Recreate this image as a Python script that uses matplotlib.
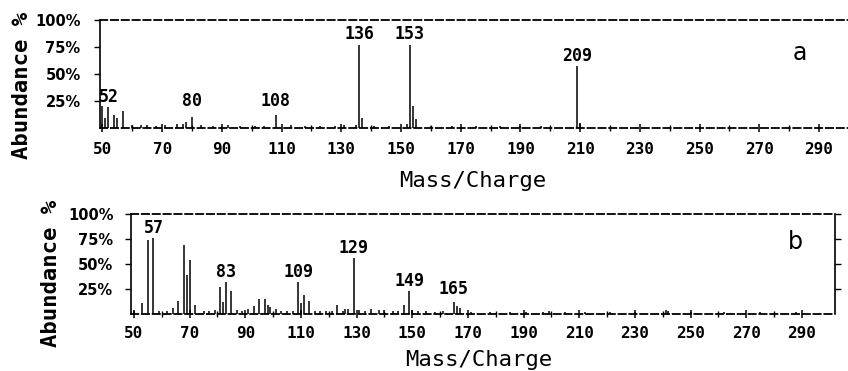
import matplotlib
matplotlib.use("Agg")
import matplotlib.pyplot as plt

# spectrum a: m/z and relative abundance (%)
mz_a = [50, 51, 52, 54, 55, 57, 60, 63, 65, 68, 71, 75, 77, 78, 80, 83, 87, 92, 96, 101,
        104, 108, 113, 118, 123, 128, 131, 135, 136, 137, 141, 146, 152, 153, 154, 155,
        160, 167, 175, 183, 190, 197, 209, 210]
ab_a = [20, 9, 19, 12, 9, 16, 3, 3, 3, 2, 3, 4, 4, 6, 10, 3, 2, 3, 2, 2,
        2, 12, 3, 2, 2, 2, 3, 3, 77, 9, 2, 2, 4, 77, 20, 8,
        2, 2, 2, 2, 2, 2, 57, 5]
tags_a = [52, 80, 108, 136, 153, 209]

# spectrum b
mz_b = [50, 53, 55, 57, 59, 62, 64, 66, 68, 69, 70, 72, 75, 77, 79, 81, 82, 83, 85, 87,
        89, 91, 93, 95, 97, 98, 99, 101, 103, 105, 107, 109, 110, 111, 113, 115, 117,
        119, 121, 123, 125, 126, 127, 129, 131, 133, 135, 138, 140, 143, 145, 147, 149,
        150, 152, 155, 158, 161, 165, 166, 167, 171, 178, 185, 191, 197, 199, 205,
        212, 221, 230, 241, 242, 250, 262, 275, 288]
ab_b = [3, 11, 74, 76, 3, 3, 6, 13, 69, 39, 54, 9, 3, 3, 4, 27, 12, 32, 23, 4,
        3, 5, 8, 15, 15, 9, 7, 5, 3, 3, 3, 32, 11, 19, 13, 3, 3,
        3, 3, 9, 3, 5, 5, 56, 4, 3, 5, 4, 4, 3, 3, 9, 23,
        4, 3, 3, 2, 3, 12, 8, 6, 2, 2, 2, 2, 2, 3, 2,
        2, 2, 2, 4, 3, 2, 2, 2, 2]
tags_b = [57, 83, 109, 129, 149, 165]

x_ticks = list(range(50, 300, 20))
y_ticks = [25, 50, 75, 100]
y_ticklabels = ["25%", "50%", "75%", "100%"]

mono = "DejaVu Sans Mono"


def draw_spectrum(ax, mz, ab, tags, xlim, ylab_pad, xlab_pad, right_axis):
    ax.vlines(mz, 0, ab, color="black", linewidth=1.1)
    heights = dict(zip(mz, ab))
    for m in tags:
        ax.text(m, max(heights[m], 15) + 10, str(m), ha="center", va="center",
                fontsize=12, fontweight="bold", family=mono)

    ax.set_xlim(*xlim)
    ax.set_ylim(0, 100)
    ax.set_xticks(x_ticks)
    ax.set_xticks(range(60, 300, 20), minor=True)
    ax.set_xticklabels([str(t) for t in x_ticks], fontsize=11.5,
                       fontweight="bold", family=mono)
    ax.set_yticks(y_ticks)
    ax.set_yticklabels(y_ticklabels, fontsize=10.5, fontweight="bold",
                       family="DejaVu Sans")
    ax.tick_params(axis="x", which="major", direction="inout", length=6,
                   width=1.1, pad=xlab_pad)
    ax.tick_params(axis="x", which="minor", direction="inout", length=4, width=1.0)
    ax.tick_params(axis="y", direction="out", length=4, width=1.0, pad=ylab_pad,
                   right=right_axis)

    for side in ["top", "bottom"]:
        ax.spines[side].set_linestyle((0, (4, 2)))
        ax.spines[side].set_linewidth(1.3)
    ax.spines["left"].set_linewidth(1.2)
    if right_axis:
        ax.spines["right"].set_linewidth(1.2)
    else:
        ax.spines["right"].set_visible(False)
    ax.set_facecolor("white")


fig = plt.figure(figsize=(8.48, 3.71), dpi=100)

ax_a = fig.add_axes([0.118, 0.655, 0.882, 0.291])
draw_spectrum(ax_a, mz_a, ab_a, tags_a, (49.2, 299.7), 10, 7, False)

ax_b = fig.add_axes([0.155, 0.154, 0.830, 0.2695])
draw_spectrum(ax_b, mz_b, ab_b, tags_b, (49.1, 302), 9, 5.5, True)

# axis titles and panel letters
fig.text(0.026, 0.771, "Abundance %", rotation=90, ha="center", va="center",
         fontsize=16, fontweight="bold", family=mono)
fig.text(0.060, 0.264, "Abundance %", rotation=90, ha="center", va="center",
         fontsize=16, fontweight="bold", family=mono)
fig.text(0.557, 0.513, "Mass/Charge", ha="center", va="center",
         fontsize=16, family=mono)
fig.text(0.564, 0.030, "Mass/Charge", ha="center", va="center",
         fontsize=16, family=mono)
fig.text(0.943, 0.857, "a", ha="center", va="center", fontsize=17,
         family="DejaVu Sans")
fig.text(0.9375, 0.348, "b", ha="center", va="center", fontsize=17,
         family="DejaVu Sans")

fig.savefig("out.png", dpi=100, facecolor="white")
